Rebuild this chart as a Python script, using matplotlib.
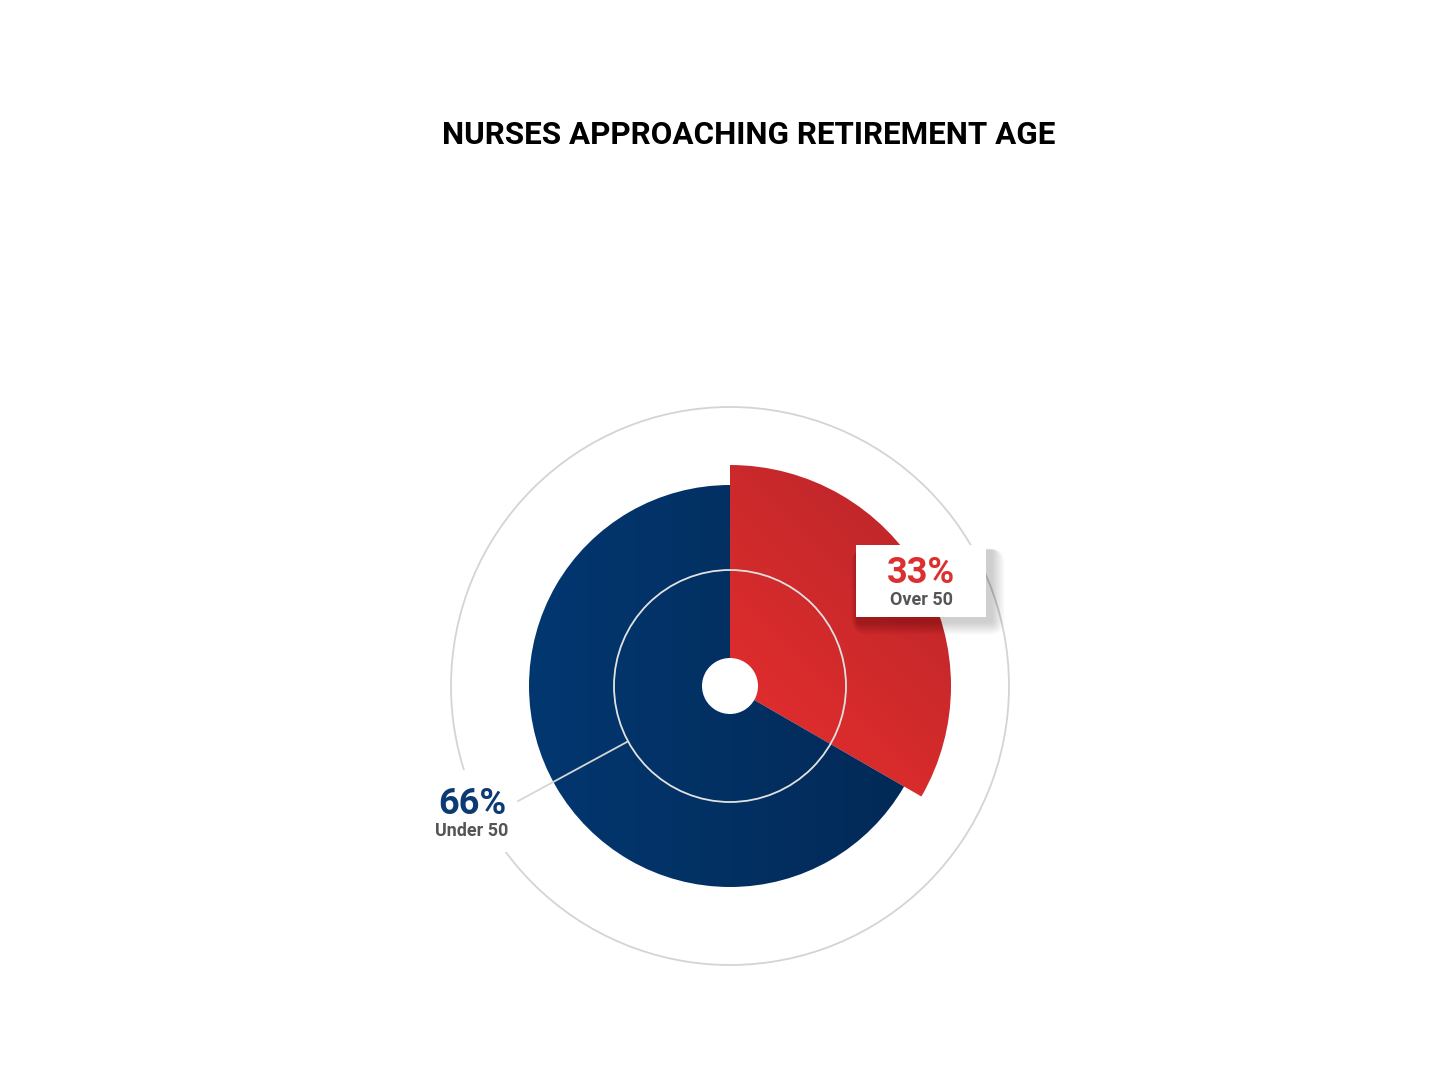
import numpy as np
import matplotlib
matplotlib.use("Agg")
import matplotlib.pyplot as plt
from matplotlib.patches import Wedge, Circle, FancyBboxPatch, Rectangle

# ---- data ----
categories = ["Over 50", "Under 50"]
values = [33, 66]
value_labels = ["33%", "66%"]
title = "NURSES APPROACHING RETIREMENT AGE"

# ---- style ----
outer_radii = [221, 201]
hole_r = 28
inner_ring_r = 116
outer_ring_r = 279
red_light, red_dark = np.array([0xDD, 0x2C, 0x2D]) / 255, np.array([0xBE, 0x27, 0x2A]) / 255
blue_light, blue_dark = np.array([0x03, 0x37, 0x70]) / 255, np.array([0x02, 0x29, 0x55]) / 255

fig = plt.figure(figsize=(14.4, 10.8), dpi=100)
ax = fig.add_axes([0, 0, 1, 1])
ax.set_xlim(-730, 710)
ax.set_ylim(-394, 686)
ax.axis("off")

# angles (clockwise from 12 o'clock)
total = sum(values)
spans = [v / total * 360 for v in values]
start = 90.0
wedges = []
for i, s in enumerate(spans):
    t2 = start
    t1 = start - s
    w = Wedge((0, 0), outer_radii[i], t1, t2, width=outer_radii[i] - hole_r,
              facecolor="none", edgecolor="none")
    ax.add_patch(w)
    wedges.append((w, t1, t2))
    start = t1

# gradients
N = 400
xs = np.linspace(-230, 230, N)
ys = np.linspace(-230, 230, N)
X, Y = np.meshgrid(xs, ys)
tr = np.clip(((X + Y) / np.sqrt(2) - 20) / 230, 0, 1)[..., None]
img_red = red_light * (1 - tr) + red_dark * tr
tb = np.clip((X + 200) / 400, 0, 1)[..., None]
img_blue = blue_light * (1 - tb) + blue_dark * tb
for (w, t1, t2), img in zip(wedges, [img_red, img_blue]):
    im = ax.imshow(img, extent=(-230, 230, -230, 230), origin="lower",
                   zorder=2, interpolation="bilinear")
    im.set_clip_path(w)
ax.set_xlim(-730, 710)
ax.set_ylim(-394, 686)

# rings
ax.add_patch(Circle((0, 0), inner_ring_r, fill=False, edgecolor="#E2E2E2", lw=1.3, zorder=3))
ax.add_patch(Circle((0, 0), outer_ring_r, fill=False, edgecolor="#D4D4D4", lw=1.3, zorder=1))

# leader line for blue label
ang = np.deg2rad(208.5)
ax.plot([inner_ring_r * np.cos(ang), 242 * np.cos(ang)],
        [inner_ring_r * np.sin(ang), 242 * np.sin(ang)],
        color="#D6D6D6", lw=1.3, zorder=3, solid_capstyle="butt")

# label box for red slice (with soft shadow)
bx0, by0, bw, bh = 126, 69, 130, 72
for k in range(16, 0, -1):
    ax.add_patch(FancyBboxPatch((bx0 + 2 - k * 0.4, by0 - 5 - k * 0.8), bw + 4 + k * 1.2, bh + k * 0.9,
                                boxstyle="round,pad=0,rounding_size=%d" % k,
                                facecolor="black", edgecolor="none", alpha=0.012, zorder=4))
ax.add_patch(Rectangle((bx0, by0), bw, bh, facecolor="white", edgecolor="none", zorder=5))
cx = bx0 + bw / 2
ax.text(cx, 113, value_labels[0], ha="center", va="center", color="#DC2F2F",
        fontsize=26, fontweight="bold", family="Roboto", zorder=6)
ax.text(cx, 86, categories[0], ha="center", va="center", color="#555555",
        fontsize=13, fontweight="bold", family="Roboto", zorder=6)

# label for blue slice (white background hides the outer ring)
ax.add_patch(Rectangle((-300, -166), 85, 82, facecolor="white", edgecolor="none", zorder=1.5))
ax.text(-258, -118, value_labels[1], ha="center", va="center", color="#0B3A74",
        fontsize=26, fontweight="bold", family="Roboto", zorder=6)
ax.text(-258, -145, categories[1], ha="center", va="center", color="#555555",
        fontsize=13, fontweight="bold", family="Roboto", zorder=6)

# title
fig.text(749 / 1440, 1 - 135 / 1080, title, ha="center", va="center",
         fontsize=22.6, fontweight="bold", family="Roboto", color="black")

fig.savefig("out.png", dpi=100, facecolor="white")
